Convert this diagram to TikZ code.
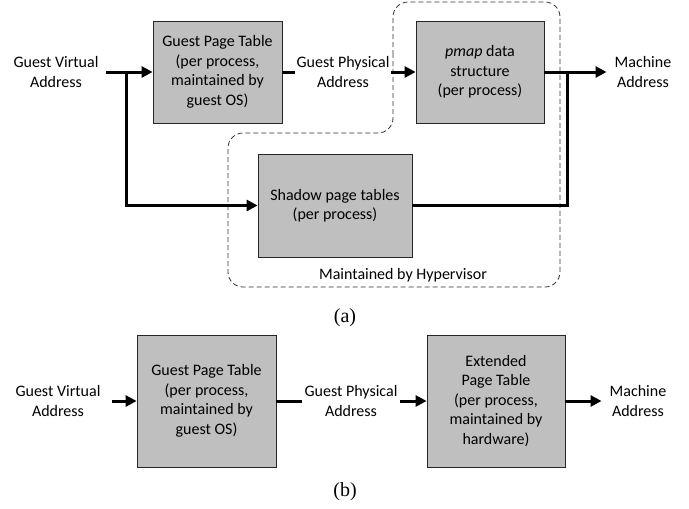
\documentclass[tikz,border=0pt]{standalone}
\usepackage{fontspec}
\setmainfont{Carlito}
\newfontfamily\capfont{Liberation Serif}
\usetikzlibrary{arrows.meta}

\begin{document}
\begin{tikzpicture}[x=1pt, y=-1pt,
    lbl/.style={align=center, font=\fontsize{16}{19.5}\selectfont, inner xsep=7pt},
    tbl/.style={draw=black!85, line width=0.8pt, fill=black!25, align=center,
      font=\fontsize{16}{19.5}\selectfont},
    subcap/.style={font=\capfont\fontsize{20}{24}\selectfont},
    link/.style={line width=3pt},
    flow/.style={line width=3pt, -{Triangle[length=11pt, width=11pt]}},
    zone/.style={draw=black!80, line width=0.8pt, dash pattern=on 5pt off 3pt, rounded corners=15pt}]
    \useasboundingbox (0,0) rectangle (689,509);

    % (a) shadow paging
    \draw[zone] (393,70) -- (393,2) -- (560,2) -- (560,287) -- (228,287)
      -- (228,133) -- (393,133) -- cycle;

    \node[lbl] (gva) at (56,72) {Guest Virtual\\Address};
    \node[tbl, minimum width=129, minimum height=102] (gpt) at (217.5,72)
      {Guest Page Table\\(per process,\\maintained by\\guest OS)};
    \node[lbl, inner xsep=1pt] (gpa) at (343,72) {Guest Physical\\Address};
    \node[tbl, minimum width=128, minimum height=102] (pmap) at (480,72)
      {\textit{pmap} data\\structure\\(per process)};
    \node[lbl, inner xsep=8pt] (ma) at (643,72) {Machine\\Address};
    \node[tbl, minimum width=154, minimum height=103] (spt) at (335,205.5)
      {Shadow page tables\\(per process)};
    \node[lbl] (hyp) at (403,275) {Maintained by Hypervisor};
    \node[subcap] (capa) at (345,318) {(a)};

    \coordinate (split) at (126,72);
    \coordinate (merge) at (567,72);

    \draw[flow] (gva) -- (gpt);
    \draw[flow] (split) |- (spt);
    \draw[link] (gpt) -- (gpa);
    \draw[flow] (gpa) -- (pmap);
    \draw[flow] (pmap) -- (ma);
    \draw[link] (spt) -| (merge);

    % (b) extended page tables
    \node[lbl, inner xsep=11pt] (gvb) at (58,401) {Guest Virtual\\Address};
    \node[tbl, minimum width=139, minimum height=132] (gptb) at (206.5,401)
      {Guest Page Table\\(per process,\\maintained by\\guest OS)};
    \node[lbl, inner xsep=2pt] (gpb) at (351,401) {Guest Physical\\Address};
    \node[tbl, minimum width=138, minimum height=132] (ept) at (496,401)
      {Extended\\Page Table\\(per process,\\maintained by\\hardware)};
    \node[lbl, inner xsep=8pt] (mb) at (638,401) {Machine\\Address};
    \node[subcap] (capb) at (345,492) {(b)};

    \draw[flow] (gvb) -- (gptb);
    \draw[link] (gptb) -- (gpb);
    \draw[flow] (gpb) -- (ept);
    \draw[flow] (ept) -- (mb);
\end{tikzpicture}
\end{document}
